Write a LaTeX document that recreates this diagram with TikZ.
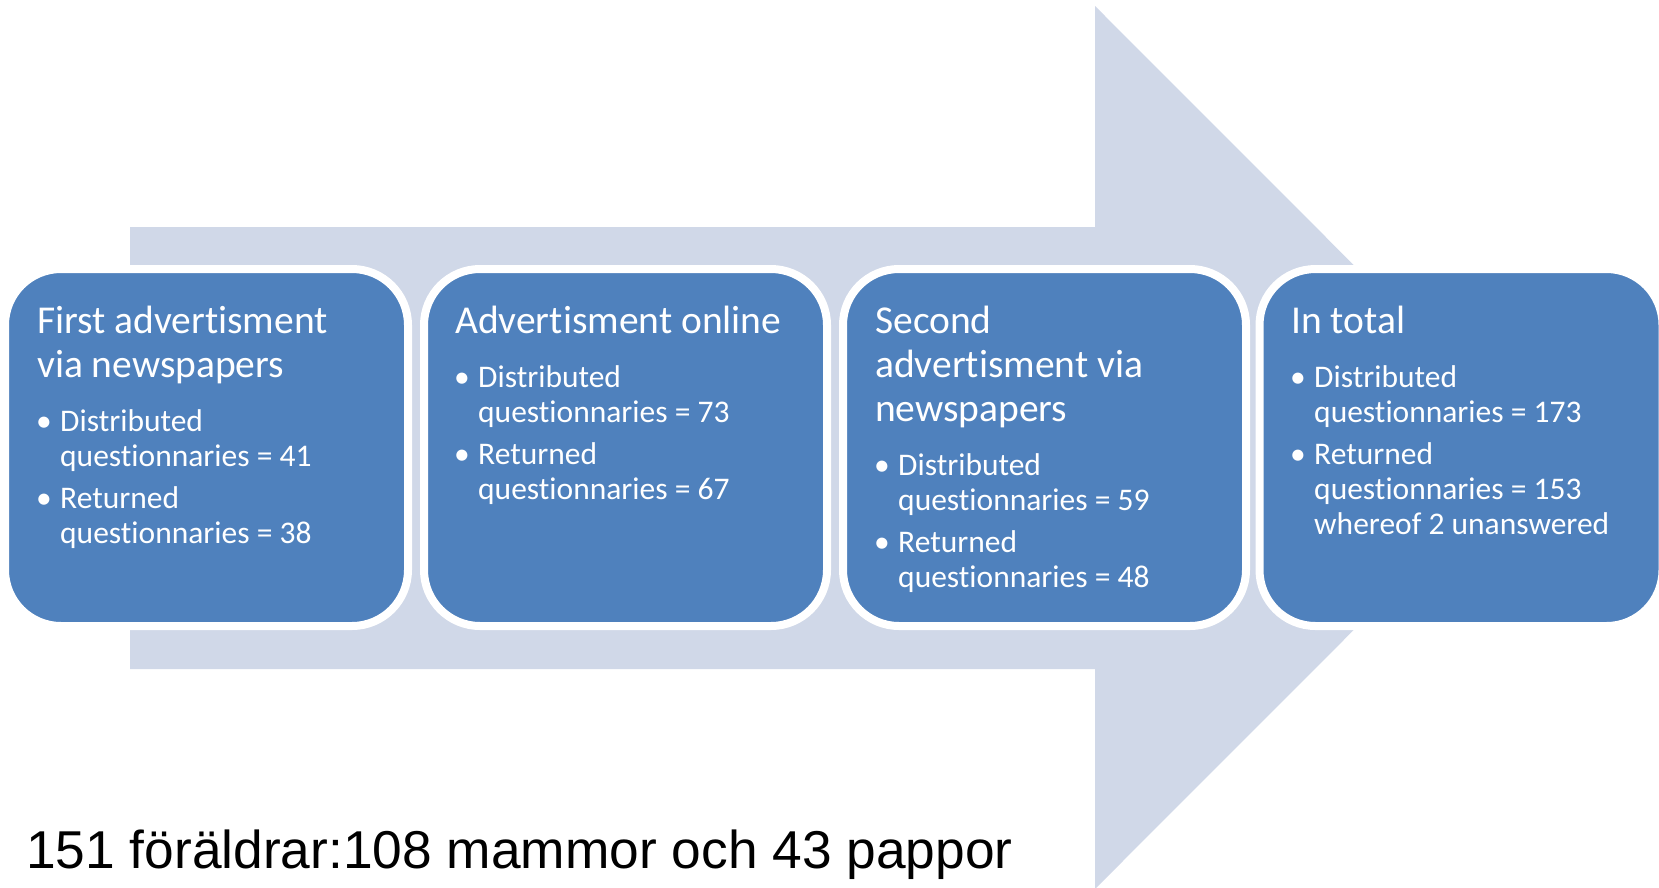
\documentclass[tikz,border=0pt]{standalone}
\usepackage{fontspec}
\setmainfont{Carlito}[Ligatures=NoCommon]
\newfontfamily\arialfont{Liberation Sans}
\definecolor{arrowgray}{HTML}{D0D8E8}
\definecolor{boxblue}{HTML}{4F81BD}

% bullet item with hanging indent
\newcommand{\itm}[2][7pt]{\par\vspace{#1}\hangindent=23pt\hangafter=1\noindent
  \hspace*{-1pt}\makebox[24pt][l]{\textbullet}#2}
\newcommand{\ttlfont}{\fontsize{39.5}{44}\selectfont\spaceskip=.226em plus .1em\relax}
\newcommand{\itmfont}{\par\fontsize{31.5}{35}\selectfont\spaceskip=.226em plus .1em\relax}

\tikzset{stage/.style={rectangle,rounded corners=56pt,fill=boxblue,draw=white,
    line width=8pt,minimum width=403pt,minimum height=357pt,inner sep=0pt},
  txt/.style={text=white,text width=380pt,align=left,inner sep=0pt,anchor=base west}}

\begin{document}
\begin{tikzpicture}[x=1pt,y=-1pt]
    \useasboundingbox (0,0) rectangle (1659,887);
    % big background arrow
    \fill[arrowgray] (130,227) -- (1095,227) -- (1095,6) -- (1536,447.5)
        -- (1095,889) -- (1095,669) -- (130,669) -- cycle;

    \foreach \i/\x in {1/206.5,2/625.5,3/1044.5,4/1461}
        \node[stage] (b\i) at (\x,447.5) {};

    \node[txt] (t1) at (37,333) {\ttlfont First advertisment\newline via newspapers
        \itmfont\itm[19pt]{Distributed\newline questionnaries = 41}
        \itm{Returned\newline questionnaries = 38}\par};
    \node[txt] (t2) at (455,333) {\ttlfont Advertisment online
        \itmfont\itm[19pt]{Distributed\newline questionnaries = 73}
        \itm{Returned\newline questionnaries = 67}\par};
    \node[txt] (t3) at (875,333) {\ttlfont Second\newline advertisment via\newline newspapers
        \itmfont\itm[19pt]{Distributed\newline questionnaries = 59}
        \itm{Returned\newline questionnaries = 48}\par};
    \node[txt] (t4) at (1291,333) {\ttlfont In total
        \itmfont\itm[19pt]{Distributed\newline questionnaries = 173}
        \itm{Returned\newline questionnaries = 153\newline whereof 2 unanswered}\par};

    \node[anchor=base west,inner sep=0pt,font=\arialfont\fontsize{53.3}{60}\selectfont]
        (sum) at (26,868) {151 föräldrar:108 mammor och 43 pappor};
\end{tikzpicture}
\end{document}
